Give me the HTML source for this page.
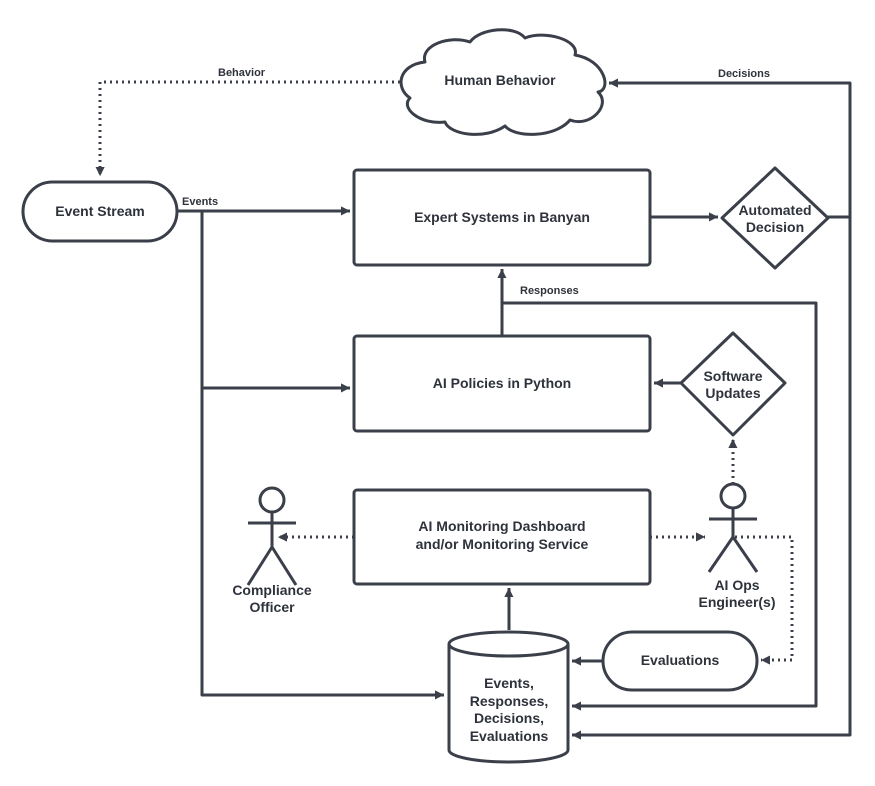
<!DOCTYPE html>
<html><head><meta charset="utf-8"><style>
html,body{margin:0;padding:0;background:#fff;}
svg{display:block;}
text{font-family:"Liberation Sans",sans-serif;font-weight:bold;fill:#2e323b;}
</style></head><body>
<svg width="875" height="786" viewBox="0 0 875 786" xmlns="http://www.w3.org/2000/svg">
<defs>
<marker id="a" markerWidth="10" markerHeight="10" refX="9" refY="5" orient="auto" markerUnits="userSpaceOnUse">
<path d="M0,0 L10,5 L0,10 Z" fill="#3a3f4a" transform="scale(1.4) translate(-3.5,-1.5)"/>
</marker>
</defs>
<g fill="none" stroke="#3a3f4a" stroke-width="3" stroke-linejoin="round">
<!-- cloud -->
<path d="M425,62 C420,45 450,35 470,42 C480,28 515,25 525,38 C545,30 580,40 575,55 C605,60 612,90 598,92 C612,105 590,128 570,120 C555,138 515,138 505,126 C485,140 450,135 445,122 C420,125 400,108 410,98 C395,88 398,65 425,62 Z" fill="#fff"/>
<!-- event stream -->
<rect x="23" y="182" width="154" height="59" rx="29.5" fill="#fff"/>
<rect x="354" y="170" width="296" height="95" rx="3" fill="#fff"/>
<rect x="354" y="336" width="296" height="95" rx="3" fill="#fff"/>
<rect x="354" y="490" width="296" height="94" rx="3" fill="#fff"/>
<path d="M775,168 L828,218 L775,268 L722,218 Z" fill="#fff"/>
<path d="M733,333 L785,383 L733,435 L681,383 Z" fill="#fff"/>
<rect x="603" y="632" width="154" height="58" rx="29" fill="#fff"/>
<!-- cylinder -->
<path d="M449,644 L449,750 A59.5,12 0 0 0 568,750 L568,644" fill="#fff"/>
<ellipse cx="508.5" cy="644" rx="59.5" ry="12" fill="#fff"/>
<!-- actors -->
<circle cx="272" cy="500" r="12"/>
<path d="M248,523 L296,523 M272,512 L272,547 M248,585 L272,547 L296,585"/>
<circle cx="733" cy="496" r="12"/>
<path d="M709,519 L757,519 M733,508 L733,537 M709,572 L733,537 L757,572"/>
<!-- solid connectors -->
<path d="M177,211 L350,211" marker-end="url(#a)"/>
<path d="M202,211 L202,695 L444,695" marker-end="url(#a)"/>
<path d="M202,388 L350,388" marker-end="url(#a)"/>
<path d="M650,217 L718,217" marker-end="url(#a)"/>
<path d="M828,217 L850,217 L850,83 L609,83" marker-end="url(#a)"/>
<path d="M850,217 L850,735 L572,735" marker-end="url(#a)"/>
<path d="M502,336 L502,269" marker-end="url(#a)"/>
<path d="M502,303 L816,303 L816,706 L572,706" marker-end="url(#a)"/>
<path d="M681,383 L654,383" marker-end="url(#a)"/>
<path d="M603,661 L572,661" marker-end="url(#a)"/>
<path d="M509,630 L509,588" marker-end="url(#a)"/>
</g>
<g fill="none" stroke="#3a3f4a" stroke-width="3" stroke-dasharray="2 4" stroke-linecap="butt">
<path d="M400,82 L100,82 L100,176" marker-end="url(#a)"/>
<path d="M733,484 L733,439" marker-end="url(#a)"/>
<path d="M650,537 L705,537" marker-end="url(#a)"/>
<path d="M354,537 L278,537" marker-end="url(#a)"/>
<path d="M735,537 L792,537 L792,660 L761,660" marker-end="url(#a)"/>
</g>
<g font-size="14" text-anchor="middle">
<text x="500" y="85">Human Behavior</text>
<text x="100" y="216">Event Stream</text>
<text x="502" y="222">Expert Systems in Banyan</text>
<text x="502" y="388">AI Policies in Python</text>
<text x="502" y="531">AI Monitoring Dashboard</text>
<text x="502" y="549">and/or Monitoring Service</text>
<text x="775" y="215">Automated</text>
<text x="775" y="232">Decision</text>
<text x="733" y="381">Software</text>
<text x="733" y="398">Updates</text>
<text x="680" y="665">Evaluations</text>
<text x="509" y="688">Events,</text>
<text x="509" y="706">Responses,</text>
<text x="509" y="723">Decisions,</text>
<text x="509" y="741">Evaluations</text>
<text x="272" y="595">Compliance</text>
<text x="272" y="612">Officer</text>
<text x="737" y="590">AI Ops</text>
<text x="737" y="607">Engineer(s)</text>
</g>
<g font-size="11">
<text x="218" y="76">Behavior</text>
<text x="718" y="77">Decisions</text>
<text x="182" y="205">Events</text>
<text x="520" y="294">Responses</text>
</g>
</svg>
</body></html>
